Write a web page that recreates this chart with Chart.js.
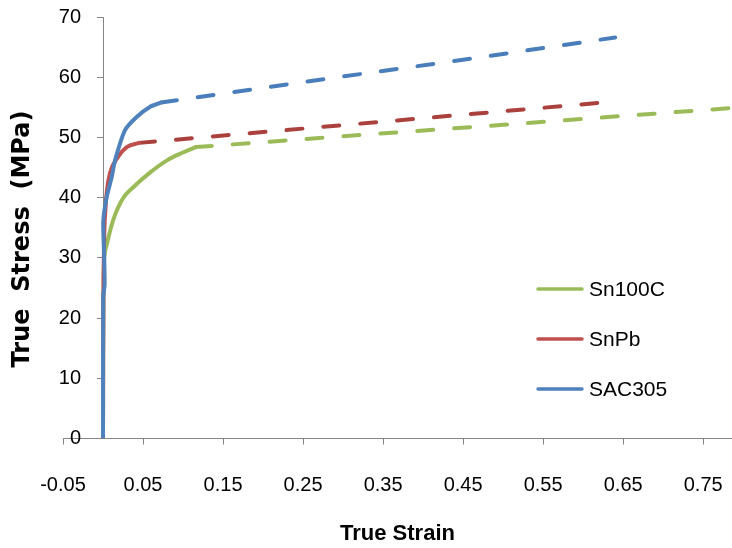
<!DOCTYPE html>
<html>
<head>
<meta charset="utf-8">
<script src="https://cdn.jsdelivr.net/npm/chart.js@4"></script>
<style>
  html, body { margin: 0; padding: 0; background: #fff; }
  #wrap { position: relative; width: 732px; height: 548px; }
</style>
</head>
<body>
<div id="wrap"><canvas id="c" width="732" height="548"></canvas></div>
<script>
// ---- data ----
const seriesNames = ['Sn100C', 'SnPb', 'SAC305'];

const sn100cStrain    = [0, 0.0003, 0.0008, 0.002, 0.005, 0.0125, 0.025, 0.0375, 0.059, 0.08, 0.1, 0.116];
const sn100cStress    = [0, 15, 27, 30.5, 32.4, 36.2, 39.9, 41.7, 44.2, 46.2, 47.5, 48.4];
const sn100cExtStrain = [0.116, 0.3, 0.5, 0.786];
const sn100cExtStress = [48.4, 50.2, 52.1, 54.9];

const snpbStrain      = [0, 0.0002, 0.0005, 0.003, 0.005, 0.00875, 0.019, 0.0296, 0.045];
const snpbStress      = [0, 12, 23.5, 38, 41.3, 44.1, 46.8, 48.4, 49.1];
const snpbExtStrain   = [0.045, 0.2, 0.4, 0.625];
const snpbExtStress   = [49.1, 50.9, 53.2, 55.8];

const sac305Strain    = [0, 0.0002, 0.002, 0.0015, 0.0003, 0.0046, 0.011, 0.015, 0.0275, 0.042, 0.059, 0.0725];
const sac305Stress    = [0, 23.5, 25.5, 30, 36, 40.1, 43.5, 46.2, 51.2, 53.4, 55.1, 55.8];
const sac305ExtStrain = [0.0725, 0.25, 0.45, 0.64];
const sac305ExtStress = [55.8, 59.2, 62.9, 66.6];

const xTickValues = [-0.05, 0.05, 0.15, 0.25, 0.35, 0.45, 0.55, 0.65, 0.75];
const yTickValues = [0, 10, 20, 30, 40, 50, 60, 70];
const xTitle = 'True Strain';
const yTitle = 'True  Stress  (MPa)';

// ---- styling ----
const solidColors = ['#9BBB59', '#C0504D', '#4F81BD'];
const dashColors  = ['#9BBB59', '#AA413D', '#4A7EBB'];
const axisColor = '#868686';

function pts(xs, ys) { return xs.map((x, i) => ({ x: x, y: ys[i] })); }

const curves = [
  [sn100cStrain, sn100cStress, sn100cExtStrain, sn100cExtStress],
  [snpbStrain, snpbStress, snpbExtStrain, snpbExtStress],
  [sac305Strain, sac305Stress, sac305ExtStrain, sac305ExtStress]
];

const datasets = [];
curves.forEach((c, i) => {
  const solid = {
    label: seriesNames[i],
    data: pts(c[0], c[1]),
    borderColor: solidColors[i], backgroundColor: solidColors[i],
    borderWidth: 4, pointRadius: 0, showLine: true, tension: 0.2,
    borderCapStyle: 'round', borderJoinStyle: 'round',
    order: 2 - i
  };
  if (i < 2) solid.cubicInterpolationMode = 'monotone';
  datasets.push(solid);
  datasets.push({
    label: seriesNames[i] + ' (extrapolated)',
    data: pts(c[2], c[3]),
    borderColor: dashColors[i], backgroundColor: dashColors[i],
    borderWidth: 4, pointRadius: 0, showLine: true, tension: 0,
    borderDash: [16, 21], borderCapStyle: 'round',
    order: 5 - i
  });
});

// y axis sits at x = 0; move its labels to the left of the tick marks
const yLabelShift = {
  id: 'yLabelShift',
  afterUpdate(chart) { chart.scales.y._shiftDone = false; },
  beforeDraw(chart) {
    const s = chart.scales.y;
    if (!s._shiftDone) {
      s.getLabelItems(chart.chartArea).forEach(it => { it.options.translation[0] -= 22; });
      s._shiftDone = true;
    }
  }
};

const overlay = {
  id: 'overlay',
  afterDraw(chart) {
    const ctx = chart.ctx;
    // y axis title (reads bottom to top)
    ctx.save();
    ctx.translate(23, 239);
    ctx.rotate(-Math.PI / 2);
    ctx.font = 'bold 24px "DejaVu Sans"';
    ctx.fillStyle = '#000';
    ctx.textAlign = 'center';
    ctx.textBaseline = 'middle';
    ctx.fillText(yTitle, 0, 0);
    ctx.restore();
    // legend
    ctx.save();
    seriesNames.forEach((name, i) => {
      const y = 289 + i * 50;
      ctx.strokeStyle = solidColors[i];
      ctx.lineWidth = 3.5;
      ctx.lineCap = 'round';
      ctx.beginPath();
      ctx.moveTo(538, y);
      ctx.lineTo(582, y);
      ctx.stroke();
      ctx.fillStyle = '#000';
      ctx.font = '21px "Liberation Sans"';
      ctx.textAlign = 'left';
      ctx.textBaseline = 'middle';
      ctx.fillText(name, 589, y + 1);
    });
    ctx.restore();
  }
};

new Chart(document.getElementById('c'), {
  type: 'scatter',
  data: { datasets: datasets },
  options: {
    responsive: false,
    animation: false,
    devicePixelRatio: 1,
    layout: { padding: { left: 63, right: 0, top: 17, bottom: 0 } },
    plugins: { legend: { display: false }, tooltip: { enabled: false } },
    scales: {
      x: {
        type: 'linear',
        position: 'bottom',
        min: -0.05,
        max: 0.786,
        afterBuildTicks: (axis) => { axis.ticks = xTickValues.map(v => ({ value: v })); },
        ticks: {
          color: '#000',
          font: { family: 'Liberation Sans', size: 20, lineHeight: 4.1 },
          padding: 0,
          maxRotation: 0,
          autoSkip: false,
          callback: (v) => Number(v).toFixed(2)
        },
        grid: { drawOnChartArea: false, drawTicks: true, tickLength: 6, color: axisColor, tickWidth: 1 },
        border: { color: axisColor, width: 1 },
        title: {
          display: true, text: xTitle, color: '#000',
          font: { family: 'Liberation Sans', size: 22, weight: 'bold', lineHeight: 0.7 },
          padding: { top: 0, bottom: 6 }
        }
      },
      y: {
        type: 'linear',
        position: { x: 0 },
        min: 0,
        max: 70,
        afterBuildTicks: (axis) => { axis.ticks = yTickValues.map(v => ({ value: v })); },
        ticks: {
          color: '#000',
          font: { family: 'Liberation Sans', size: 20 },
          padding: 0
        },
        grid: { drawOnChartArea: false, drawTicks: true, tickLength: 6, color: axisColor, tickWidth: 1 },
        border: { color: axisColor, width: 1 }
      }
    }
  },
  plugins: [yLabelShift, overlay]
});
</script>
</body>
</html>
